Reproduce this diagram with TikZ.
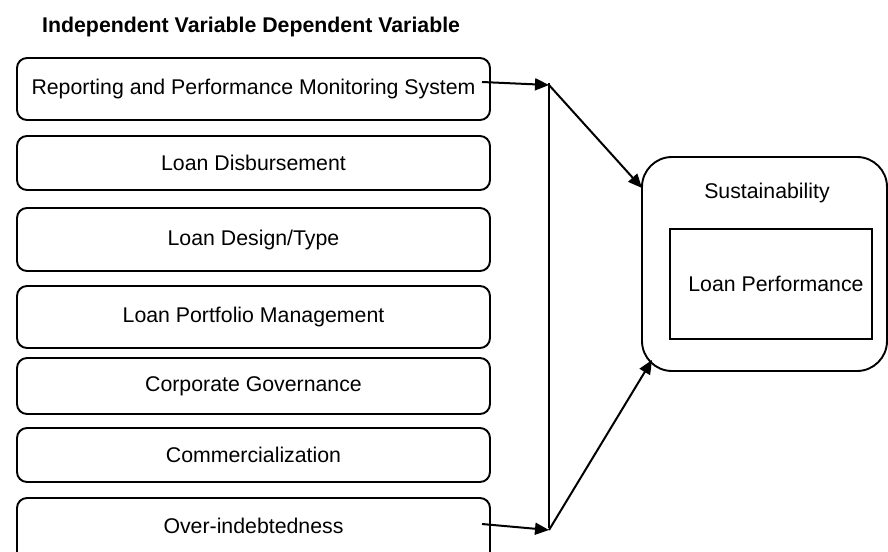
\documentclass[tikz,border=0pt]{standalone}
\usepackage{fontspec}
\setmainfont{Liberation Sans}
\usetikzlibrary{arrows.meta}
\begin{document}
\begin{tikzpicture}[x=1pt,y=-1pt,
  txt/.style={font=\fontsize{21.3}{25}\selectfont},
  ivbox/.style={draw,line width=1.9pt,rounded corners=10pt,minimum width=473pt,inner sep=0pt,txt},
  conn/.style={line width=2pt},
  arr/.style={conn,-{Triangle[length=14pt,width=12pt]}}]
\useasboundingbox (0,0) rectangle (888,551);
\clip (0,0) rectangle (888,551);
\node[font=\fontsize{21.3}{25}\selectfont\bfseries, anchor=base west, inner sep=0pt] (title) at (42,33) {Independent Variable Dependent Variable};
\node[ivbox,minimum height=62pt] (b1) at (253.5,89) {Reporting and Performance Monitoring System};
\node[ivbox,minimum height=54pt] (b2) at (253.5,163) {Loan Disbursement};
\node[ivbox,minimum height=63pt] (b3) at (253.5,239.5) {Loan Design/Type};
\node[ivbox,minimum height=62pt] (b4) at (253.5,317) {Loan Portfolio Management};
\node[ivbox,minimum height=56pt] (b5) at (253.5,386) {Corporate Governance};
\node[ivbox,minimum height=54pt] (b6) at (253.5,455) {Commercialization};
\node[ivbox,minimum height=64pt] (b7) at (253.5,530) {\raisebox{9pt}{Over-indebtedness}};
\node[draw,line width=1.9pt,rounded corners=30pt,minimum width=245pt,minimum height=214pt,inner sep=0pt] (sust) at (764.5,264) {};
\node[txt] (sustlabel) at (767,193) {Sustainability};
\node[draw,line width=1.6pt,minimum width=202pt,minimum height=110pt,inner sep=0pt,txt] (lp) at (771,284) {\hspace*{10pt}Loan Performance};
\coordinate (s1) at (482,82);
\coordinate (s7) at (482,524);
\coordinate (j1) at (549,85);
\coordinate (j2) at (549,530);
\coordinate (t1) at (642,188);
\coordinate (t2) at (652,360);
\draw[arr] (s1) -- (j1);
\draw[arr] (s7) -- (j2);
\draw[conn] (549,83) -- (549,528);
\draw[arr] (j1) -- (t1);
\draw[arr] (j2) -- (t2);
\end{tikzpicture}
\end{document}
